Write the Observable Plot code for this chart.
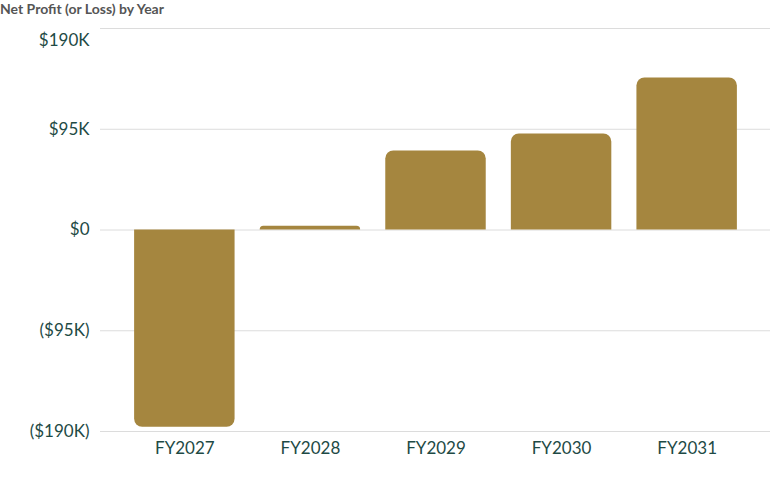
<!DOCTYPE html>
<html>
<head>
<meta charset="utf-8">
<script src="https://cdn.jsdelivr.net/npm/d3@7"></script>
<script src="https://cdn.jsdelivr.net/npm/@observablehq/plot@0.6"></script>
<style>
  html, body { margin: 0; padding: 0; background: #fff; }
  #title { font-family: Lato, "Noto Sans", sans-serif; font-weight: 700; font-size: 14px; color: #555; height: 20px; line-height: 17px; }
</style>
</head>
<body>
<div id="title">Net Profit (or Loss) by Year</div>
<div id="chart"></div>
<script>
const years = ["FY2027", "FY2028", "FY2029", "FY2030", "FY2031"];
const profits = [-186000, 3500, 74500, 90500, 143300];
const yTicks = [-190000, -95000, 0, 95000, 190000];

const data = years.map((year, i) => ({year, profit: profits[i]}));

const fmt = v => {
  if (v === 0) return "$0";
  const s = "$" + Math.abs(v / 1000) + "K";
  return v < 0 ? "(" + s + ")" : s;
};

const textColor = "#1e4a45";

const chart = Plot.plot({
  width: 770,
  height: 457,
  marginTop: 8,
  marginBottom: 46,
  marginLeft: 100,
  marginRight: 0,
  style: {fontFamily: "Lato, 'Noto Sans', sans-serif", fontSize: "17px", color: textColor, overflow: "visible"},
  x: {domain: years, padding: 0.2, round: false, insetLeft: 9, insetRight: 8, label: null, tickSize: 0, tickPadding: 10},
  y: {domain: [-190000, 190000], ticks: yTicks, tickFormat: fmt, label: null, tickSize: 0, tickPadding: 11},
  marks: [
    Plot.gridY(yTicks, {stroke: "#dcdcdc", strokeOpacity: 1, strokeWidth: 1}),
    Plot.barY(data.filter(d => d.profit >= 0), {x: "year", y: "profit", fill: "#a5863f", ry1: 8}),
    Plot.barY(data.filter(d => d.profit < 0), {x: "year", y: "profit", fill: "#a5863f", ry2: 8}),
    Plot.axisY(yTicks.slice(0, 4), {tickFormat: fmt, tickSize: 0, tickPadding: 11, label: null, fontSize: 17, fill: textColor}),
    Plot.axisY(yTicks.slice(4), {tickFormat: fmt, tickSize: 0, tickPadding: 11, label: null, fontSize: 17, fill: textColor, dy: 12}),
    Plot.axisX({tickSize: 0, tickPadding: 10, label: null, fontSize: 17, fill: textColor})
  ]
});
document.getElementById("chart").appendChild(chart);
</script>
</body>
</html>
